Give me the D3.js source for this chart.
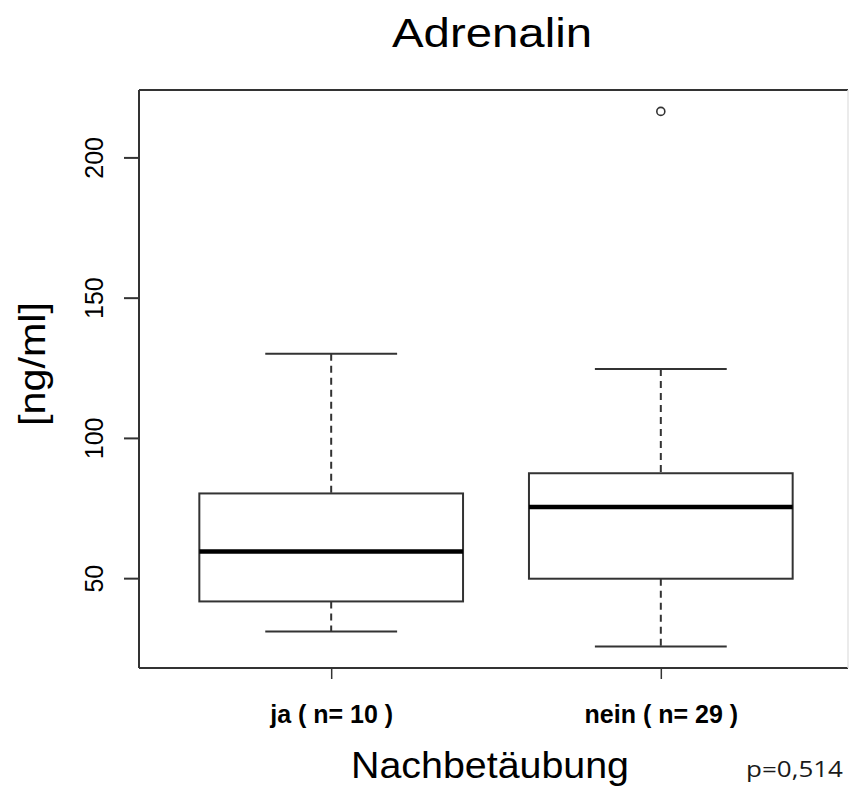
<!DOCTYPE html>
<html lang="en">
<head>
    <meta charset="UTF-8">
    <title>Adrenalin</title>
    <script src="https://d3js.org/d3.v7.min.js"></script>
    <style>
        body { margin: 0; background: #fff; }
        text { font-family: "Liberation Sans", Arial, sans-serif; fill: #000; }
    </style>
</head>
<body>
    <svg id="chart" width="849" height="787"></svg>
    <script>
        // values
        const groups = ["ja ( n= 10 )", "nein ( n= 29 )"];
        const whiskerLow = [31.0, 25.6];
        const q1 = [41.7, 49.8];
        const median = [59.5, 75.4];
        const q3 = [80.2, 87.4];
        const whiskerHigh = [130.0, 124.6];
        const outliers = [[], [216.4]];
        const yTicks = [50, 100, 150, 200];

        const svg = d3.select("#chart");
        const plotLeft = 139, plotRight = 848, plotTop = 90, plotBottom = 668;
        const lineColor = "#333";

        // R style limits: 4% padding on the data range
        const allVals = whiskerLow.concat(whiskerHigh, outliers.flat());
        const lo = d3.min(allVals), hi = d3.max(allVals);
        const pad = (hi - lo) * 0.04;

        const x = d3.scaleLinear().domain([0.42, groups.length + 0.58]).range([140, 852]);
        const y = d3.scaleLinear().domain([lo - pad, hi + pad]).range([plotBottom, plotTop]);

        // frame
        svg.append("line").attr("x1", plotLeft).attr("x2", plotRight).attr("y1", plotTop).attr("y2", plotTop)
            .attr("stroke", lineColor).attr("stroke-width", 2);
        svg.append("line").attr("x1", plotLeft).attr("x2", plotRight).attr("y1", plotBottom).attr("y2", plotBottom)
            .attr("stroke", lineColor).attr("stroke-width", 2);
        svg.append("line").attr("x1", plotLeft).attr("x2", plotLeft).attr("y1", plotTop).attr("y2", plotBottom)
            .attr("stroke", lineColor).attr("stroke-width", 2);
        svg.append("line").attr("x1", plotRight).attr("x2", plotRight).attr("y1", plotTop).attr("y2", plotBottom)
            .attr("stroke", "#e4e4e4").attr("stroke-width", 1.5);

        // y axis
        const yAxis = svg.append("g")
            .attr("transform", `translate(${plotLeft},0)`)
            .call(d3.axisLeft(y).tickValues(yTicks).tickSize(15).tickPadding(0).tickFormat(d3.format("d")));
        yAxis.select(".domain").remove();
        yAxis.selectAll(".tick line").attr("stroke", lineColor).attr("stroke-width", 2);
        yAxis.selectAll(".tick text")
            .attr("x", 0).attr("dy", 0)
            .attr("transform", "translate(-36,0) rotate(-90)")
            .attr("text-anchor", "middle")
            .style("font-size", "25px");

        // x axis
        const xAxis = svg.append("g")
            .attr("transform", `translate(0,${plotBottom})`)
            .call(d3.axisBottom(x).tickValues(d3.range(1, groups.length + 1)).tickSize(11).tickPadding(26)
                .tickFormat(d => groups[d - 1]));
        xAxis.select(".domain").remove();
        xAxis.selectAll(".tick line").attr("stroke", lineColor).attr("stroke-width", 1.5);
        xAxis.selectAll(".tick text")
            .style("font-size", "25px").style("font-weight", "bold");

        const boxData = groups.map((g, i) => ({
            pos: i + 1, lo: whiskerLow[i], q1: q1[i], med: median[i], q3: q3[i], hi: whiskerHigh[i], out: outliers[i]
        }));

        const box = svg.selectAll(".box").data(boxData).enter().append("g").attr("class", "box");

        // dashed whiskers
        box.append("line")
            .attr("x1", d => x(d.pos)).attr("x2", d => x(d.pos))
            .attr("y1", d => y(d.hi)).attr("y2", d => y(d.q3))
            .attr("stroke", lineColor).attr("stroke-width", 2).attr("stroke-dasharray", "7,5");
        box.append("line")
            .attr("x1", d => x(d.pos)).attr("x2", d => x(d.pos))
            .attr("y1", d => y(d.q1)).attr("y2", d => y(d.lo))
            .attr("stroke", lineColor).attr("stroke-width", 2).attr("stroke-dasharray", "7,5");

        // whisker caps
        box.append("line")
            .attr("x1", d => x(d.pos - 0.2)).attr("x2", d => x(d.pos + 0.2))
            .attr("y1", d => y(d.hi)).attr("y2", d => y(d.hi))
            .attr("stroke", lineColor).attr("stroke-width", 2);
        box.append("line")
            .attr("x1", d => x(d.pos - 0.2)).attr("x2", d => x(d.pos + 0.2))
            .attr("y1", d => y(d.lo)).attr("y2", d => y(d.lo))
            .attr("stroke", lineColor).attr("stroke-width", 2);

        // boxes
        box.append("rect")
            .attr("x", d => x(d.pos - 0.4))
            .attr("width", d => x(d.pos + 0.4) - x(d.pos - 0.4))
            .attr("y", d => y(d.q3))
            .attr("height", d => y(d.q1) - y(d.q3))
            .attr("fill", "#fff").attr("stroke", lineColor).attr("stroke-width", 2);

        // medians
        box.append("line")
            .attr("x1", d => x(d.pos - 0.4)).attr("x2", d => x(d.pos + 0.4))
            .attr("y1", d => y(d.med)).attr("y2", d => y(d.med))
            .attr("stroke", "#000").attr("stroke-width", 4.5);

        // outliers
        box.selectAll(".out").data(d => d.out.map(v => ({ pos: d.pos, v: v }))).enter()
            .append("circle")
            .attr("cx", d => x(d.pos)).attr("cy", d => y(d.v)).attr("r", 4)
            .attr("fill", "none").attr("stroke", lineColor).attr("stroke-width", 1.6);

        // titles
        svg.append("text")
            .attr("x", 492).attr("y", 47)
            .attr("text-anchor", "middle")
            .attr("textLength", 200).attr("lengthAdjust", "spacingAndGlyphs")
            .style("font-size", "41px")
            .text("Adrenalin");

        svg.append("text")
            .attr("x", 490).attr("y", 778)
            .attr("text-anchor", "middle")
            .attr("textLength", 278).attr("lengthAdjust", "spacingAndGlyphs")
            .style("font-size", "36px")
            .text("Nachbetäubung");

        svg.append("text")
            .attr("transform", "translate(45,364) rotate(-90)")
            .attr("text-anchor", "middle")
            .attr("textLength", 124).attr("lengthAdjust", "spacingAndGlyphs")
            .style("font-size", "36px")
            .text("[ng/ml]");

        svg.append("text")
            .attr("x", 843).attr("y", 777)
            .attr("text-anchor", "end")
            .attr("textLength", 97).attr("lengthAdjust", "spacingAndGlyphs")
            .style("font-family", "'Open Sans', sans-serif")
            .style("font-size", "22px")
            .style("fill", "#1a1a1a")
            .text("p=0,514");
    </script>
</body>
</html>
